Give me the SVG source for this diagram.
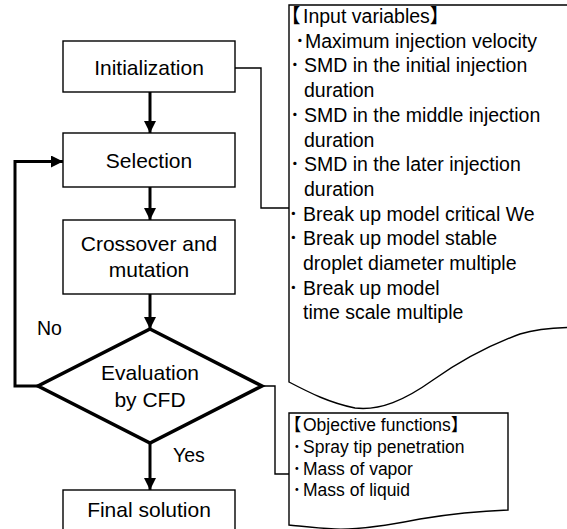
<svg xmlns="http://www.w3.org/2000/svg" width="567" height="529" viewBox="0 0 567 529">
<defs>
<style>
.box{fill:#fff;stroke:#000;stroke-width:1.4}
.dia{fill:#fff;stroke:#000;stroke-width:3.5;stroke-linejoin:miter}
.flow{fill:none;stroke:#000;stroke-width:3}
.thin{fill:none;stroke:#000;stroke-width:1.4}
.lbl{font-family:"Liberation Sans",Arial,sans-serif;font-size:21px;fill:#000;text-anchor:middle}
.yn{font-family:"Liberation Sans",Arial,sans-serif;font-size:19.5px;fill:#000}
.iv{font-family:"Liberation Sans","Noto Sans CJK JP",sans-serif;font-size:19.5px;fill:#000}
.of{font-family:"Liberation Sans","Noto Sans CJK JP",sans-serif;font-size:17.5px;fill:#000}
</style>
<marker id="ah" viewBox="0 0 12 12" refX="12" refY="6" markerWidth="12" markerHeight="12" markerUnits="userSpaceOnUse" orient="auto">
<path d="M0,0 L12,6 L0,12 Z" fill="#000"/>
</marker>
</defs>

<g id="connectors">
<line class="flow" x1="150" y1="92" x2="150" y2="133" marker-end="url(#ah)"/>
<line class="flow" x1="150" y1="187" x2="150" y2="220" marker-end="url(#ah)"/>
<line class="flow" x1="150" y1="294" x2="150" y2="329" marker-end="url(#ah)"/>
<line class="flow" x1="150" y1="443" x2="150" y2="490" marker-end="url(#ah)"/>
<polyline class="flow" points="38,386 15,386 15,161.5 63,161.5" marker-end="url(#ah)"/>
<polyline class="thin" points="235,68 261,68 261,208 289,208"/>
<polyline class="thin" points="262,386 275,386 275,474 289,474"/>
</g>

<g id="initialization">
<rect class="box" x="63" y="41" width="172" height="51"/>
<text class="lbl" x="149" y="75">Initialization</text>
</g>

<g id="selection">
<rect class="box" x="63" y="133" width="172" height="54"/>
<text class="lbl" x="149" y="168">Selection</text>
</g>

<g id="crossover">
<rect class="box" x="63" y="220" width="172" height="74"/>
<text class="lbl" x="149" y="251">Crossover and</text>
<text class="lbl" x="149" y="277">mutation</text>
</g>

<g id="evaluation">
<polygon class="dia" points="150,329 262,386 150,443 38,386"/>
<text class="lbl" x="150" y="380">Evaluation</text>
<text class="lbl" x="150" y="407">by CFD</text>
</g>

<g id="final">
<rect class="box" x="63" y="490" width="172" height="50"/>
<text class="lbl" x="149" y="517">Final solution</text>
</g>

<g id="labels">
<text class="yn" x="37" y="335">No</text>
<text class="yn" x="173" y="462">Yes</text>
</g>

<g id="input-variables">
<path class="thin" d="M568,5 L289,5 L289,382 C310,393 330,403 355,408 C380,411 405,400 433,380 C460,361 490,345 520,334 C537,329 552,328 568,327.5"/>
<text class="iv" y="23"><tspan x="281">【</tspan><tspan x="303">Input variables</tspan>】</text>
<text class="iv" y="47.7"><tspan x="295">･</tspan><tspan x="305">Maximum injection velocity</tspan></text>
<text class="iv" y="72.4"><tspan x="290">･</tspan><tspan x="304">SMD in the initial injection</tspan></text>
<text class="iv" x="304" y="97.1">duration</text>
<text class="iv" y="121.8"><tspan x="290">･</tspan><tspan x="304">SMD in the middle injection</tspan></text>
<text class="iv" x="304" y="146.5">duration</text>
<text class="iv" y="171.2"><tspan x="290">･</tspan><tspan x="304">SMD in the later injection</tspan></text>
<text class="iv" x="304" y="195.9">duration</text>
<text class="iv" y="220.6"><tspan x="288.5">･</tspan><tspan x="303">Break up model critical We</tspan></text>
<text class="iv" y="245.3"><tspan x="288.5">･</tspan><tspan x="303">Break up model stable</tspan></text>
<text class="iv" x="303" y="270">droplet diameter multiple</text>
<text class="iv" y="294.7"><tspan x="288.5">･</tspan><tspan x="303">Break up model</tspan></text>
<text class="iv" x="303" y="319.4">time scale multiple</text>
</g>

<g id="objective-functions">
<path class="thin" d="M289,525 L289,413 L508,413 L508,510 C480,511 450,514 420,519 C390,525 360,530 335,529 C315,528 300,526 289,525 Z"/>
<text class="of" y="431"><tspan x="284">【</tspan><tspan x="303">Objective functions</tspan>】</text>
<text class="of" y="453"><tspan x="292.5">･</tspan><tspan x="303">Spray tip penetration</tspan></text>
<text class="of" y="474.5"><tspan x="292.5">･</tspan><tspan x="303">Mass of vapor</tspan></text>
<text class="of" y="496"><tspan x="292.5">･</tspan><tspan x="303">Mass of liquid</tspan></text>
</g>
</svg>
